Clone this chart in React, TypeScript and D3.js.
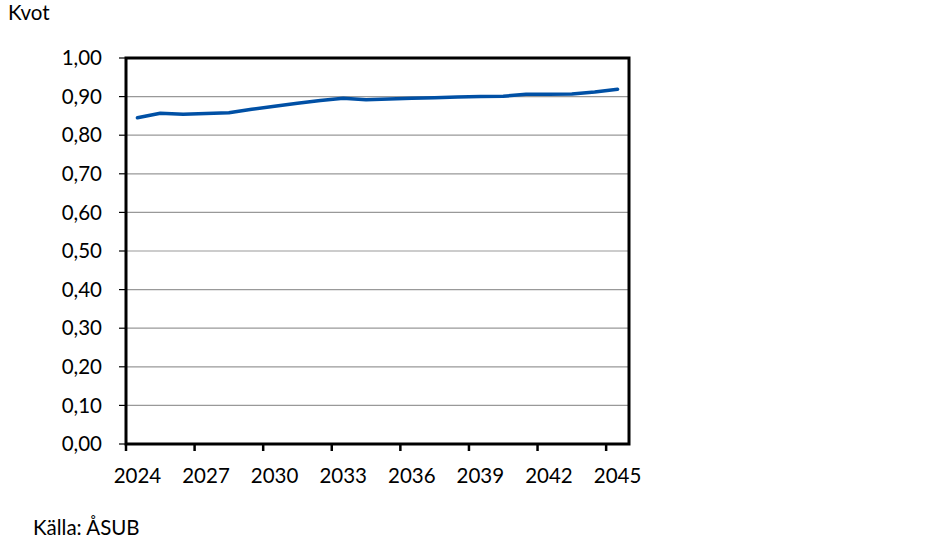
import * as d3 from "d3";
import React, { useEffect, useRef } from "react";

const years: number[] = d3.range(2024, 2046);
const kvot: number[] = [
  0.845, 0.857, 0.854, 0.856, 0.858, 0.867, 0.875, 0.883, 0.89, 0.896, 0.892,
  0.894, 0.896, 0.897, 0.899, 0.9, 0.901, 0.906, 0.906, 0.907, 0.912, 0.919,
];
const yTicks: number[] = d3.range(0, 1.0001, 0.1);
const xLabelYears: number[] = [2024, 2027, 2030, 2033, 2036, 2039, 2042, 2045];

const W = 928;
const H = 543;
const FONT = "Lato, 'Open Sans', sans-serif";
const FS = "20.5px";

const App: React.FC = () => {
  const svgRef = useRef<SVGSVGElement>(null);

  useEffect(() => {
    const svg = d3.select(svgRef.current);
    svg.selectAll("*").remove();

    const left = 126;
    const right = 629;
    const top = 58;
    const bottom = 444;

    const x = d3
      .scaleBand<number>()
      .domain(years)
      .range([left, right])
      .padding(0);
    const y = d3.scaleLinear().domain([0, 1]).range([bottom, top]);

    // gridlines
    svg
      .append("g")
      .selectAll("line")
      .data(yTicks.slice(1, -1))
      .join("line")
      .attr("x1", left)
      .attr("x2", right)
      .attr("y1", (d) => y(d))
      .attr("y2", (d) => y(d))
      .attr("stroke", "#999")
      .attr("stroke-width", 1.2);

    // y axis ticks + labels
    const yAxis = svg.append("g");
    yAxis
      .selectAll("line")
      .data(yTicks)
      .join("line")
      .attr("x1", left - 7)
      .attr("x2", left)
      .attr("y1", (d) => y(d))
      .attr("y2", (d) => y(d))
      .attr("stroke", "#000")
      .attr("stroke-width", 1.2);
    yAxis
      .selectAll("text")
      .data(yTicks)
      .join("text")
      .attr("x", 102)
      .attr("y", (d) => y(d))
      .attr("dy", "0.35em")
      .attr("text-anchor", "end")
      .style("font-family", FONT)
      .style("font-size", FS)
      .attr("fill", "#000")
      .text((d) => d3.format(".2f")(d).replace(".", ","));

    // x axis ticks (every 3 categories, at left edge of band)
    const xAxis = svg.append("g");
    xAxis
      .selectAll("line")
      .data(xLabelYears)
      .join("line")
      .attr("x1", (d) => x(d)!)
      .attr("x2", (d) => x(d)!)
      .attr("y1", bottom)
      .attr("y2", bottom + 7)
      .attr("stroke", "#000")
      .attr("stroke-width", 2.5);
    xAxis
      .selectAll("text")
      .data(xLabelYears)
      .join("text")
      .attr("x", (d) => x(d)! + x.bandwidth() / 2)
      .attr("y", bottom + 39)
      .attr("text-anchor", "middle")
      .style("font-family", FONT)
      .style("font-size", FS)
      .attr("fill", "#000")
      .text((d) => String(d));

    // frame
    svg
      .append("rect")
      .attr("x", left)
      .attr("y", top)
      .attr("width", right - left)
      .attr("height", bottom - top)
      .attr("fill", "none")
      .attr("stroke", "#000")
      .attr("stroke-width", 3);

    // line
    const line = d3
      .line<number>()
      .x((_, i) => x(years[i])! + x.bandwidth() / 2)
      .y((d) => y(d));
    svg
      .append("path")
      .datum(kvot)
      .attr("d", line)
      .attr("fill", "none")
      .attr("stroke", "#0050A5")
      .attr("stroke-width", 3.5)
      .attr("stroke-linejoin", "round")
      .attr("stroke-linecap", "round");

    svg
      .append("text")
      .attr("x", 8)
      .attr("y", 20)
      .style("font-family", FONT)
      .style("font-size", FS)
      .text("Kvot");

    svg
      .append("text")
      .attr("x", 33)
      .attr("y", 535)
      .style("font-family", FONT)
      .style("font-size", FS)
      .text("Källa: ÅSUB");
  }, []);

  return (
    <svg
      ref={svgRef}
      width={W}
      height={H}
      style={{ position: "absolute", left: 0, top: 0, background: "#fff" }}
    />
  );
};

export default App;
